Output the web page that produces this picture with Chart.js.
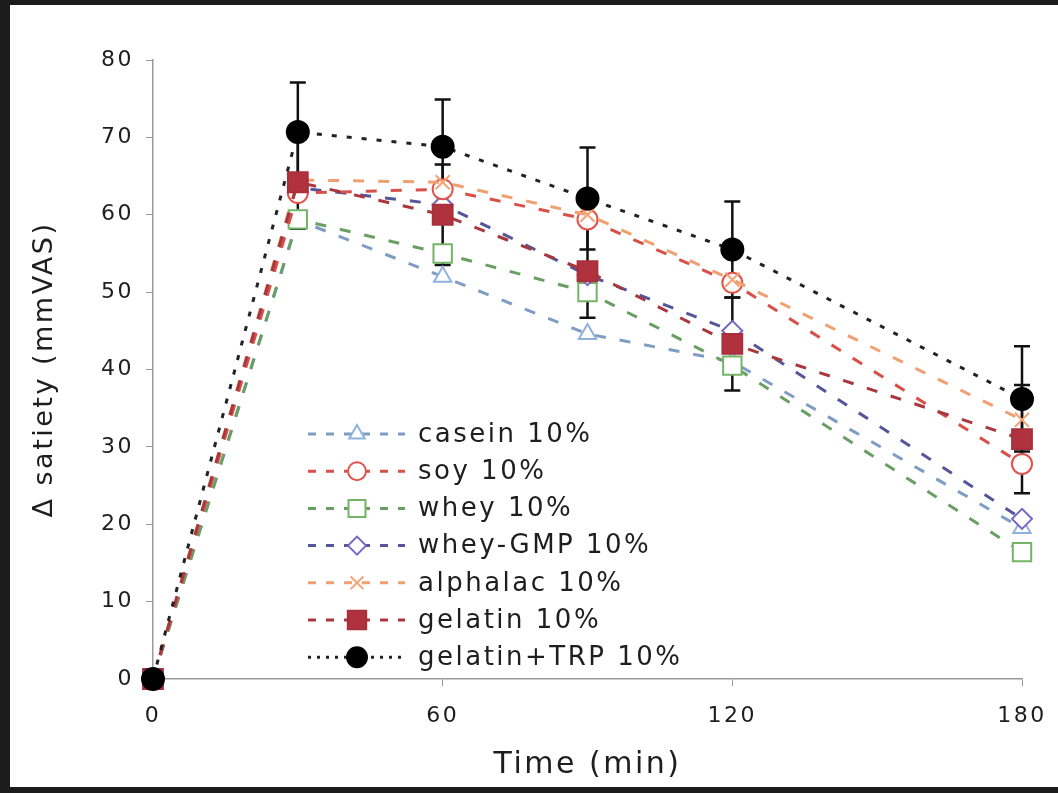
<!DOCTYPE html>
<html>
<head>
<meta charset="utf-8">
<script src="https://cdn.jsdelivr.net/npm/chart.js@4"></script>
<style>
  html, body { margin: 0; padding: 0; background: #fff; }
  #wrap { position: relative; width: 1058px; height: 793px; }
  #frame { position: absolute; left: 0; top: 0; right: 0; bottom: 0; border-style: solid; border-color: #1c1c1c; border-width: 5px 0 6px 10px; pointer-events: none; }
</style>
</head>
<body>
<div id="wrap">
  <canvas id="chart" width="1058" height="793"></canvas>
  <div id="frame"></div>
</div>
<script>
// Dados (minutos x delta saciedade)
const times = [0, 30, 60, 90, 120, 180];
const xTicks = [0, 60, 120, 180];
const seriesNames = ['casein 10%', 'soy 10%', 'whey 10%', 'whey-GMP 10%', 'alphalac 10%', 'gelatin 10%', 'gelatin+TRP 10%'];
const casein = [0, 59.3, 52.0, 44.6, 41.0, 19.5];
const soy = [0, 62.8, 63.3, 59.4, 51.2, 27.8];
const whey = [0, 59.4, 55.0, 50.0, 40.5, 16.4];
const wheyGmp = [0, 63.5, 61.3, 52.2, 45.0, 20.7];
const alphalac = [0, 64.5, 64.2, 60.0, 51.6, 33.5];
const gelatin = [0, 64.2, 60.0, 52.7, 43.3, 31.0];
const gelatinTrp = [0, 70.7, 68.8, 62.1, 55.5, 36.2];
const gelatinErr = [0, 6.0, 6.5, 6.0, 6.0, 7.0];
const gelatinTrpErr = [0, 6.4, 6.1, 6.6, 6.2, 6.8];

window.addEventListener('load', () => {

    const ctx = document.getElementById('chart').getContext('2d');
    const fonte = '"DejaVu Sans", Verdana, sans-serif';
    const corTexto = '#1e1e1e';

    function pts(vals) {
        return vals.map((v, i) => ({ x: times[i], y: v }));
    }

    // Estilo de cada serie
    function serie(label, vals, cor, linha, marca, fundo, raio, dash, ordem, erros) {
        return {
            label: label,
            data: pts(vals),
            borderColor: linha,
            borderWidth: 3,
            borderDash: dash,
            pointStyle: marca,
            pointRadius: raio,
            pointBorderColor: cor,
            pointBackgroundColor: fundo,
            pointBorderWidth: 2,
            tension: 0,
            order: ordem,
            clip: false,
            erros: erros
        };
    }

    const tracejado = [11, 14];
    const pontilhado = [5, 10];

    const datasets = [
        serie(seriesNames[0], casein, '#8fb2e0', '#7f9cc4', 'triangle', '#ffffff', 10, tracejado, 6, null),
        serie(seriesNames[1], soy, '#e0544c', '#d8504a', 'circle', '#ffffff', 10, tracejado, 3, null),
        serie(seriesNames[2], whey, '#74b466', '#6a9f63', 'rect', '#ffffff', 13, tracejado, 5, null),
        serie(seriesNames[3], wheyGmp, '#7565c4', '#55559a', 'rectRot', '#ffffff', 10, tracejado, 4, null),
        serie(seriesNames[4], alphalac, '#f4a274', '#f0a070', 'crossRot', '#ffffff', 10, tracejado, 2, null),
        serie(seriesNames[5], gelatin, '#a8303c', '#a8383e', 'rect', '#b0323e', 14, tracejado, 1, gelatinErr),
        serie(seriesNames[6], gelatinTrp, '#000000', '#222222', 'circle', '#000000', 11, pontilhado, 0, gelatinTrpErr)
    ];

    // Espacamento das letras (o texto original e bem largo)
    const espacamento = {
        id: 'espacamento',
        beforeDraw(chart) { chart.ctx.letterSpacing = '2.5px'; },
        beforeLayout(chart) { chart.ctx.letterSpacing = '2.5px'; }
    };

    // Barras de erro (desenhadas atras dos marcadores)
    const errorBars = {
        id: 'errorBars',
        beforeDatasetsDraw(chart) {
            const c = chart.ctx;
            const x = chart.scales.x, y = chart.scales.y;
            c.save();
            c.strokeStyle = '#111';
            c.lineWidth = 2.5;
            chart.data.datasets.forEach(ds => {
                if (!ds.erros) return;
                ds.data.forEach((p, i) => {
                    const e = ds.erros[i];
                    if (!e) return;
                    const px = x.getPixelForValue(p.x);
                    const yt = y.getPixelForValue(p.y + e);
                    const yb = y.getPixelForValue(p.y - e);
                    c.beginPath();
                    c.moveTo(px, yt); c.lineTo(px, yb);
                    c.moveTo(px - 8, yt); c.lineTo(px + 8, yt);
                    c.moveTo(px - 8, yb); c.lineTo(px + 8, yb);
                    c.stroke();
                });
            });
            c.restore();
        }
    };

    // Legenda dentro da area do grafico, com linha + marcador
    const legendaInterna = {
        id: 'legendaInterna',
        afterDraw(chart) {
            const c = chart.ctx;
            const x0 = 308, x1 = 405, xm = 357, xt = 418;
            let yy = 434;
            const passo = 37.2;
            c.save();
            c.font = '26px ' + fonte;
            c.textBaseline = 'middle';
            c.textAlign = 'left';
            chart.data.datasets.forEach(ds => {
                c.save();
                c.strokeStyle = ds.borderColor;
                c.lineWidth = 3;
                c.setLineDash(ds.borderDash === pontilhado ? [3, 6] : [8, 10]);
                c.beginPath();
                c.moveTo(x0, yy); c.lineTo(x1, yy);
                c.stroke();
                c.restore();
                c.save();
                c.strokeStyle = ds.pointBorderColor;
                c.fillStyle = ds.pointBackgroundColor;
                c.lineWidth = 2;
                Chart.helpers.drawPoint(c, {
                    pointStyle: ds.pointStyle,
                    radius: ds.pointRadius - 1,
                    rotation: 0,
                    borderWidth: 2
                }, xm, yy);
                c.restore();
                c.fillStyle = corTexto;
                c.fillText(ds.label, xt, yy + 1);
                yy += passo;
            });
            c.restore();
        }
    };

    new Chart(ctx, {
        type: 'line',
        data: { datasets: datasets },
        options: {
            responsive: false,
            animation: false,
            layout: { padding: { top: 60, right: 36, left: 0, bottom: 0 } },
            plugins: {
                legend: { display: false },
                tooltip: { enabled: false }
            },
            scales: {
                x: {
                    type: 'linear',
                    min: 0,
                    max: 180,
                    afterFit(scale) { scale.height = 114; scale.paddingLeft = 0; scale.paddingRight = 0; },
                    afterBuildTicks(scale) { scale.ticks = xTicks.map(v => ({ value: v })); },
                    grid: { drawOnChartArea: false, drawTicks: true, tickLength: 7, color: '#9a9a9a' },
                    border: { color: '#9a9a9a', width: 1.5 },
                    ticks: { color: corTexto, font: { family: fonte, size: 22 }, padding: 17, maxRotation: 0 },
                    title: { display: true, text: 'Time (min)', color: corTexto, font: { family: fonte, size: 30 }, padding: { top: 0, bottom: 10 } }
                },
                y: {
                    min: 0,
                    max: 80,
                    afterFit(scale) { scale.width = 153; scale.paddingTop = 0; scale.paddingBottom = 0; },
                    grid: { drawOnChartArea: false, drawTicks: true, tickLength: 7, color: '#9a9a9a' },
                    border: { color: '#9a9a9a', width: 1.5 },
                    ticks: { stepSize: 10, color: corTexto, font: { family: fonte, size: 22 }, padding: 12 },
                    title: { display: true, text: 'Δ satiety (mmVAS)', color: corTexto, font: { family: fonte, size: 27 }, padding: { top: 29, bottom: 0 } }
                }
            }
        },
        plugins: [espacamento, errorBars, legendaInterna]
    });
});
</script>
</body>
</html>
